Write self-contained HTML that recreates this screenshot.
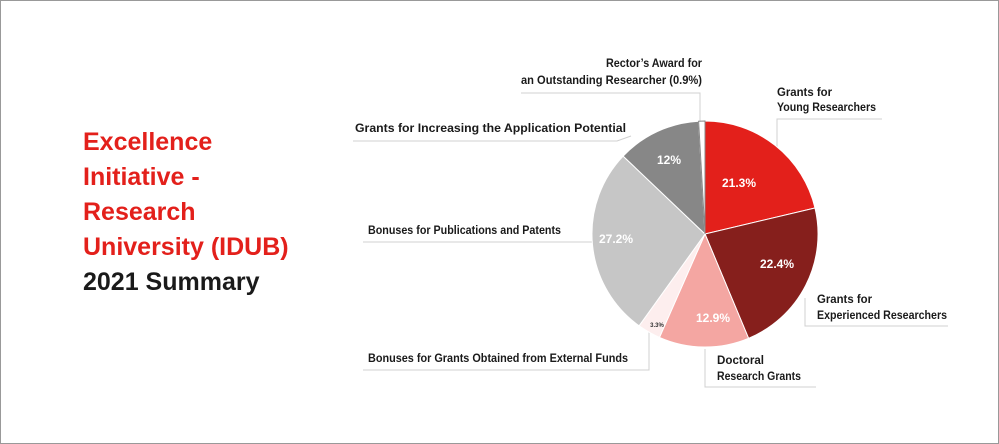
<!DOCTYPE html>
<html><head><meta charset="utf-8"><style>
body{margin:0;background:#fff}
#w{position:relative;width:997px;height:442px;border:1px solid #999;overflow:hidden;font-family:"Liberation Sans",sans-serif}
.t{position:absolute;left:82px;font-weight:bold;font-size:25px;line-height:35px;color:#e3201b}
</style></head><body><div id="w">
<div class="t" style="top:124px">Excellence<br>Initiative -<br>Research<br>University (IDUB)<br><span style="color:#1a1a1a">2021 Summary</span></div>
<svg width="997" height="442" style="position:absolute;left:0;top:0" font-family="Liberation Sans, sans-serif" font-weight="bold">
<g stroke="#d0d0d0" stroke-width="1" fill="none">
<polyline points="699,120 699,92 520,92"/>
<polyline points="776,200 776,118 881,118"/>
<polyline points="804,297 804,325 947,325"/>
<polyline points="704,348 704,386 815,386"/>
<polyline points="648,330 648,369 362,369"/>
<polyline points="591,241 362,241"/>
<polyline points="630,135 616,140 352,140"/>
</g>
<g stroke="#fff" stroke-width="1">
<path d="M704,233 L704,120 A113,113 0 0 1 814,207 Z" fill="#e3201b"/>
<path d="M704,233 L814,207 A113,113 0 0 1 747.6,337.3 Z" fill="#861f1c"/>
<path d="M704,233 L747.6,337.3 A113,113 0 0 1 658.5,336.4 Z" fill="#f4a6a2"/>
<path d="M704,233 L658.5,336.4 A113,113 0 0 1 638.1,324.8 Z" fill="#fdeeee"/>
<path d="M704,233 L638.1,324.8 A113,113 0 0 1 622.1,155.1 Z" fill="#c6c6c6"/>
<path d="M704,233 L622.1,155.1 A113,113 0 0 1 697.6,120.2 Z" fill="#878787"/>
<path d="M704,233 L697.6,120.2 A113,113 0 0 1 704,120 Z" fill="#fff" stroke="#888"/>
</g>
<g fill="#fff" font-size="12" text-anchor="middle">
<text x="738" y="186">21.3%</text>
<text x="776" y="267">22.4%</text>
<text x="712" y="321">12.9%</text>
<text x="668" y="163">12%</text>
<text x="615" y="242">27.2%</text>
<text x="656" y="326" font-size="6" fill="#333">3.3%</text>
</g>
<g fill="#1a1a1a" font-size="12" lengthAdjust="spacingAndGlyphs">
<text x="605" y="66" textLength="96" lengthAdjust="spacingAndGlyphs">Rector’s Award for</text>
<text x="520" y="83" textLength="181" lengthAdjust="spacingAndGlyphs">an Outstanding Researcher (0.9%)</text>
<text x="776" y="95" textLength="55" lengthAdjust="spacingAndGlyphs">Grants for</text>
<text x="776" y="110" textLength="99" lengthAdjust="spacingAndGlyphs">Young Researchers</text>
<text x="816" y="302" textLength="55" lengthAdjust="spacingAndGlyphs">Grants for</text>
<text x="816" y="318" textLength="130" lengthAdjust="spacingAndGlyphs">Experienced Researchers</text>
<text x="716" y="363" textLength="47" lengthAdjust="spacingAndGlyphs">Doctoral</text>
<text x="716" y="379" textLength="84" lengthAdjust="spacingAndGlyphs">Research Grants</text>
<text x="354" y="131" textLength="271" lengthAdjust="spacingAndGlyphs">Grants for Increasing the Application Potential</text>
<text x="367" y="233" textLength="193" lengthAdjust="spacingAndGlyphs">Bonuses for Publications and Patents</text>
<text x="367" y="361" textLength="260" lengthAdjust="spacingAndGlyphs">Bonuses for Grants Obtained from External Funds</text>
</g>
</svg></div></body></html>
